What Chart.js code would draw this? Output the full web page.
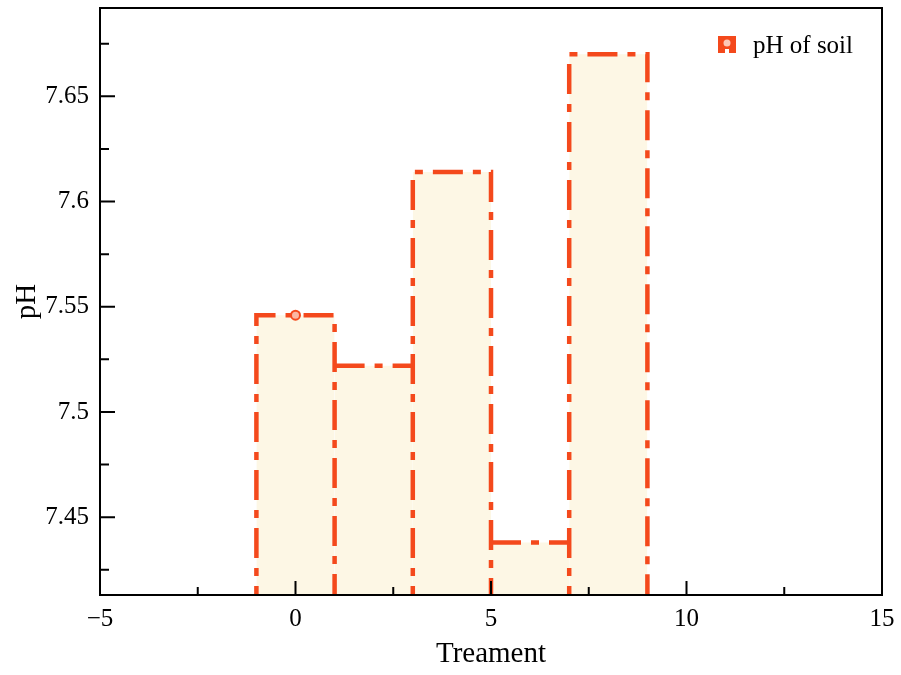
<!DOCTYPE html>
<html>
<head>
<meta charset="utf-8">
<script src="https://cdn.jsdelivr.net/npm/chart.js@4/dist/chart.umd.min.js"></script>
<style>
  html, body { margin: 0; padding: 0; background: #fff; }
  #wrap { width: 901px; height: 675px; }
</style>
</head>
<body>
<div id="wrap"><canvas id="chart"></canvas></div>
<script>
// data
const treatments = [0, 2, 4, 6, 8];
const phValues = [7.546, 7.522, 7.614, 7.438, 7.670];
const barWidth = 2;
const xMajorTicks = [-5, 0, 5, 10, 15];
const xMinorTicks = [-2.5, 2.5, 7.5, 12.5];
const yMajorTicks = [7.45, 7.5, 7.55, 7.6, 7.65];
const yMinorTicks = [7.425, 7.475, 7.525, 7.575, 7.625, 7.675];

const orange = "#f4491c";
const cream = "#fdf7e5";
const yMin = 7.413, yMax = 7.692;
const base = yMin - 0.01;
const serif = "'Liberation Serif', 'Times New Roman', serif";

// one outline per bar; a shared edge is drawn only by the taller neighbour
const barSets = treatments.map((t, i) => {
    const v = phValues[i];
    const prev = phValues[i - 1], next = phValues[i + 1];
    const pts = [];
    if (i === 0 || v > prev) pts.push({x: t - barWidth / 2, y: base});
    pts.push({x: t - barWidth / 2, y: v}, {x: t + barWidth / 2, y: v});
    if (i === treatments.length - 1 || v >= next) pts.push({x: t + barWidth / 2, y: base});
    return {
        type: "line",
        data: pts,
        borderColor: orange,
        borderWidth: 4.5,
        borderDash: [30, 10, 8, 10],
        borderCapStyle: "butt",
        borderJoinStyle: "miter",
        backgroundColor: cream,
        fill: "start",
        pointRadius: 0,
        tension: 0,
    };
});

const marker = {
    type: "line",
    data: [{x: treatments[0], y: phValues[0]}],
    showLine: false,
    pointRadius: 4.5,
    pointBackgroundColor: "#fbb7a2",
    pointBorderColor: orange,
    pointBorderWidth: 2,
};

const frameTicks = {
    id: "frameTicks",
    afterDatasetsDraw(chart) {
        const {ctx, chartArea: a, scales: {x, y}} = chart;
        ctx.save();
        ctx.strokeStyle = "#000";
        ctx.lineWidth = 2;
        ctx.beginPath();
        xMajorTicks.forEach(v => { const p = x.getPixelForValue(v); ctx.moveTo(p, a.bottom); ctx.lineTo(p, a.bottom - 14); });
        xMinorTicks.forEach(v => { const p = x.getPixelForValue(v); ctx.moveTo(p, a.bottom); ctx.lineTo(p, a.bottom - 8); });
        yMajorTicks.forEach(v => { const p = y.getPixelForValue(v); ctx.moveTo(a.left, p); ctx.lineTo(a.left + 15, p); });
        yMinorTicks.forEach(v => { const p = y.getPixelForValue(v); ctx.moveTo(a.left, p); ctx.lineTo(a.left + 9, p); });
        ctx.stroke();
        ctx.strokeRect(a.left, a.top, a.right - a.left, a.bottom - a.top);

        // legend
        const lx = 718, ly = 36;
        ctx.fillStyle = orange;
        ctx.fillRect(lx, ly, 18, 17);
        ctx.fillStyle = "#fff";
        ctx.fillRect(lx + 7, ly + 13, 4, 4);
        ctx.beginPath();
        ctx.arc(lx + 9, ly + 7, 3.5, 0, Math.PI * 2);
        ctx.fillStyle = "#fcc8b8";
        ctx.fill();
        ctx.fillStyle = "#000";
        ctx.font = "25px " + serif;
        ctx.textBaseline = "alphabetic";
        ctx.fillText("pH of soil", 753, 53);
        ctx.restore();
    }
};

new Chart(document.getElementById("chart"), {
    data: {datasets: [marker, ...barSets]},
    options: {
        responsive: true,
        maintainAspectRatio: false,
        animation: false,
        layout: {padding: {top: 8, right: 19, left: 0, bottom: 0}},
        plugins: {
            legend: {display: false},
            tooltip: {enabled: false},
            filler: {drawTime: "beforeDatasetsDraw"},
        },
        scales: {
            x: {
                type: "linear",
                min: -5,
                max: 15,
                afterBuildTicks: s => { s.ticks = xMajorTicks.map(v => ({value: v})); },
                afterFit: s => { s.height = 80; s.paddingLeft = 0; s.paddingRight = 0; },
                grid: {display: false, drawTicks: false},
                border: {display: false},
                ticks: {
                    color: "#000",
                    padding: 9,
                    font: {family: serif, size: 25},
                    callback: v => String(v).replace("-", "\u2212"),
                },
                title: {
                    display: true,
                    text: "Treament",
                    color: "#000",
                    font: {family: serif, size: 29},
                    padding: {top: 0, bottom: 3},
                },
            },
            y: {
                type: "linear",
                min: yMin,
                max: yMax,
                afterBuildTicks: s => { s.ticks = yMajorTicks.map(v => ({value: v})); },
                afterFit: s => { s.width = 100; s.paddingTop = 0; s.paddingBottom = 0; },
                grid: {display: false, drawTicks: false},
                border: {display: false},
                ticks: {
                    color: "#000",
                    padding: 11,
                    font: {family: serif, size: 25},
                    callback: v => String(+v.toFixed(3)),
                },
                title: {
                    display: true,
                    text: "pH",
                    color: "#000",
                    font: {family: serif, size: 29},
                    padding: {top: 10, bottom: 0},
                },
            },
        },
    },
    plugins: [frameTicks],
});
</script>
</body>
</html>
